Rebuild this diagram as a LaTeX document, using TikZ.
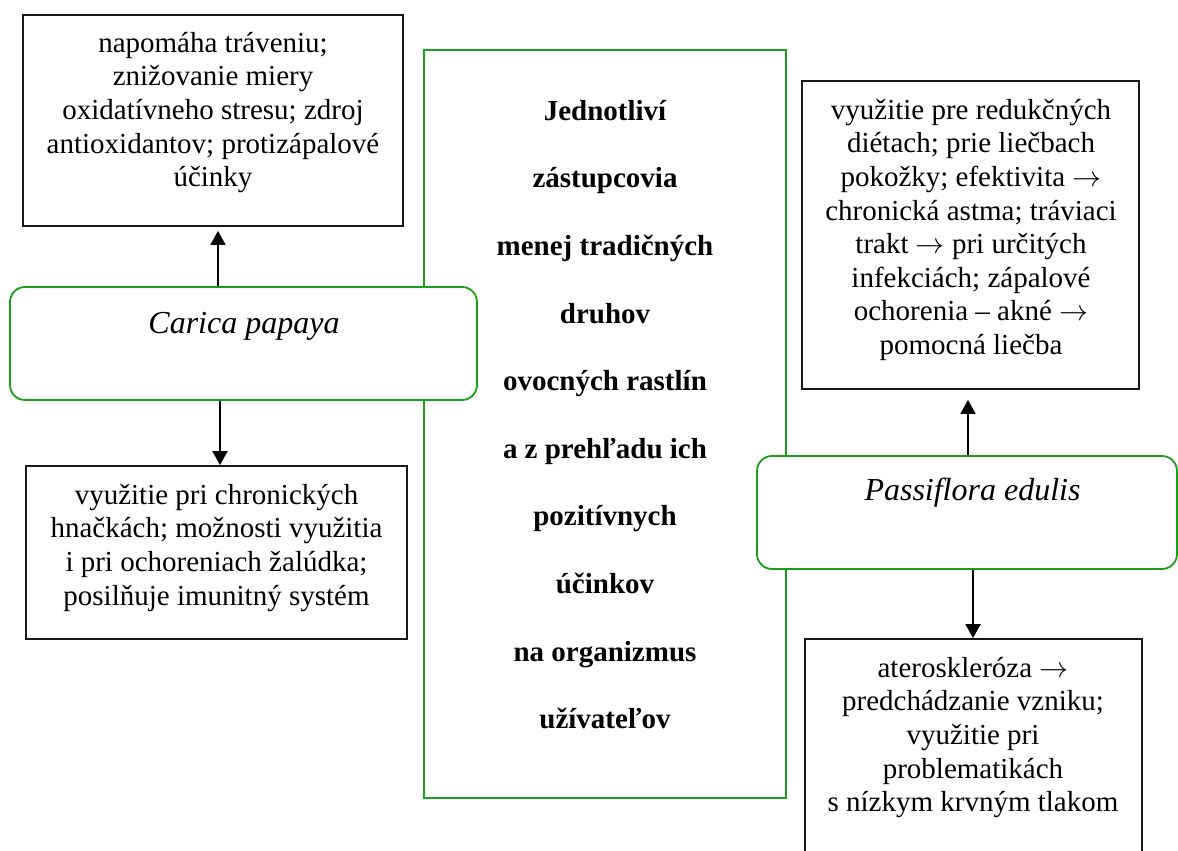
\RequirePackage{fix-cm}
\documentclass[tikz,border=0pt]{standalone}
\usepackage{fontspec}
\setmainfont{Liberation Serif}
\usetikzlibrary{arrows.meta}
\definecolor{leafgreen}{RGB}{24,160,24}
\newcommand{\toarrow}{\ensuremath{\rightarrow}}
\begin{document}
\begin{tikzpicture}[x=1pt,y=-1pt,
  effbox/.style={draw=black!90, line width=1.8pt, fill=white, inner sep=0pt},
  plantbox/.style={draw=leafgreen, line width=1.8pt, fill=white, rounded corners=15pt, inner sep=0pt},
  titlebox/.style={draw=leafgreen, line width=1.8pt, inner sep=0pt},
  bodytext/.style={align=center, inner sep=0pt, anchor=north, font=\fontsize{29}{33.6}\selectfont},
  titletext/.style={align=center, inner sep=0pt, anchor=north, font=\fontsize{29}{67.6}\selectfont\bfseries},
  planttext/.style={inner sep=0pt, anchor=base, font=\fontsize{32}{36}\selectfont\itshape},
  link/.style={line width=1.8pt, -{Triangle[width=15pt,length=14pt]}}]
\clip (0,0) rectangle (1178,851);

% central title frame
\node[titlebox, minimum width=362pt, minimum height=748pt] (title) at (605,424) {};

% plant frames
\node[plantbox, minimum width=467pt, minimum height=113pt] (carica) at (243.5,343.5) {};
\node[plantbox, minimum width=420pt, minimum height=113pt] (passi) at (967,512.5) {};

% effect boxes
\node[effbox, minimum width=380pt, minimum height=211pt] (eff1) at (213,120.5) {};
\node[effbox, minimum width=381pt, minimum height=173pt] (eff2) at (216.5,552.5) {};
\node[effbox, minimum width=337pt, minimum height=308pt] (eff3) at (970.5,235) {};
\node[effbox, minimum width=337pt, minimum height=261pt] (eff4) at (973.5,769.5) {};

% texts
\node[titletext] (titletxt) at (605,96) {\rule{0pt}{24pt}Jednotliví\\ zástupcovia\\ menej tradičných\\ druhov\\ ovocných rastlín\\ a z prehľadu ich\\ pozitívnych\\ účinkov\\ na organizmus\\ užívateľov};
\node[planttext] (caricatxt) at (244,333) {Carica papaya};
\node[planttext] (passitxt) at (972.5,500.7) {Passiflora edulis};
\node[bodytext] (eff1txt) at (213,28) {\rule{0pt}{24pt}napomáha tráveniu;\\ znižovanie miery\\ oxidatívneho stresu; zdroj\\ antioxidantov; protizápalové\\ účinky};
\node[bodytext] (eff2txt) at (216.5,480) {\rule{0pt}{24pt}využitie pri chronických\\ hnačkách; možnosti využitia\\ i pri ochoreniach žalúdka;\\ posilňuje imunitný systém};
\node[bodytext] (eff3txt) at (971,95) {\rule{0pt}{24pt}využitie pre redukčných\\ diétach; prie liečbach\\ pokožky; efektivita \toarrow\\ chronická astma; tráviaci\\ trakt \toarrow{} pri určitých\\ infekciách; zápalové\\ ochorenia – akné \toarrow\\ pomocná liečba};
\node[bodytext] (eff4txt) at (973,653) {\rule{0pt}{24pt}ateroskleróza \toarrow\\ predchádzanie vzniku;\\ využitie pri\\ problematikách\\ s nízkym krvným tlakom};

% connectors
\draw[link, shorten >=4pt] ([xshift=5pt]eff1.south |- carica.north) -- ([xshift=5pt]eff1.south);
\draw[link] ([xshift=3.5pt]eff2.north |- carica.south) -- ([xshift=3.5pt]eff2.north);
\draw[link, shorten >=10pt] ([xshift=-2.5pt]eff3.south |- passi.north) -- ([xshift=-2.5pt]eff3.south);
\draw[link] ([xshift=-0.5pt]eff4.north |- passi.south) -- ([xshift=-0.5pt]eff4.north);
\end{tikzpicture}
\end{document}
